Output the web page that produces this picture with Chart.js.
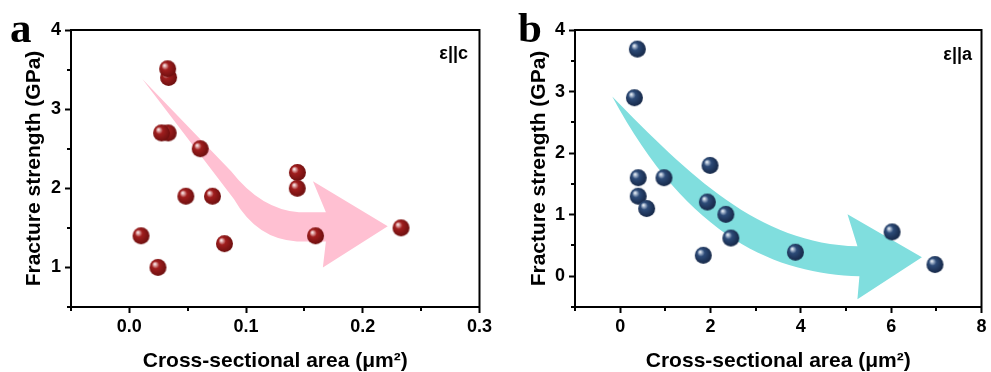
<!DOCTYPE html>
<html>
<head>
<meta charset="utf-8">
<script src="https://cdn.jsdelivr.net/npm/chart.js@4.4.0/dist/chart.umd.min.js"></script>
<style>
  html, body { margin: 0; padding: 0; background: #fff; }
  #wrap { position: relative; width: 991px; height: 372px; overflow: hidden; background: #fff; }
  canvas { position: absolute; top: 0; }
  .lab { position: absolute; font-family: 'Liberation Serif', 'Times New Roman', serif; font-weight: bold; font-size: 43px; line-height: 43px; color: #000; }
  .ann { position: absolute; font-family: 'Liberation Sans', Arial, sans-serif; font-weight: bold; font-size: 18px; line-height: 18px; color: #000; white-space: nowrap; }
</style>
</head>
<body>
<div id="wrap">
  <canvas id="ca" width="495" height="372" style="left:0px"></canvas>
  <canvas id="cb" width="496" height="372" style="left:495px"></canvas>
  <div class="lab" style="left:10px; top:6px;">a</div>
  <div class="lab" style="left:518px; top:6px;">b</div>
  <div class="ann" style="right:523px; top:44px;">ε||c</div>
  <div class="ann" style="right:19px; top:45px;">ε||a</div>
</div>
<script>
// ---- data (panel a: ε||c) ----
const xA = [0.0336, 0.0328, 0.0333, 0.0276, 0.0607, 0.0484, 0.0712, 0.0100, 0.0245, 0.0815, 0.1440, 0.1439, 0.1595, 0.2328];
const yA = [3.40, 3.51, 2.70, 2.70, 2.50, 1.90, 1.90, 1.40, 1.00, 1.30, 2.20, 2.00, 1.40, 1.50];
const xTicksA = [0.0, 0.1, 0.2, 0.3];
const xMinorA = [-0.05, 0.05, 0.15, 0.25];
const yTicksA = [1, 2, 3, 4];
const yMinorA = [0.5, 1.5, 2.5, 3.5];

// ---- data (panel b: ε||a) ----
const xB = [0.38, 0.315, 0.40, 0.97, 0.40, 0.586, 1.99, 1.93, 2.34, 2.45, 1.84, 3.88, 6.02, 6.97];
const yB = [3.69, 2.90, 1.60, 1.60, 1.30, 1.10, 1.80, 1.205, 1.005, 0.62, 0.34, 0.39, 0.72, 0.19];
const xTicksB = [0, 2, 4, 6, 8];
const xMinorB = [-1, 1, 3, 5, 7];
const yTicksB = [0, 1, 2, 3, 4];
const yMinorB = [-0.5, 0.5, 1.5, 2.5, 3.5];

const xTitle = 'Cross-sectional area (μm²)';
const yTitle = 'Fracture strength (GPa)';

// trend arrows, in data coordinates
const arrowA = [
  ['M', 0.0111, 3.380],
  ['L', 0.0872, 2.215],
  ['Q', 0.1128, 1.734, 0.1453, 1.696],
  ['L', 0.1684, 1.696],
  ['L', 0.1573, 2.089],
  ['L', 0.2214, 1.519],
  ['L', 0.1658, 1.000],
  ['L', 0.1684, 1.329],
  ['L', 0.1436, 1.329],
  ['Q', 0.1094, 1.354, 0.0897, 1.861],
  ['Z']
];
const arrowB = [
  ['M', -0.176, 2.919],
  ['C', 1.516, 1.654, 3.055, 0.519, 5.253, 0.486],
  ['L', 5.033, 1.005],
  ['L', 6.681, 0.308],
  ['L', 5.253, -0.373],
  ['L', 5.297, 0.0],
  ['C', 3.495, 0.032, 1.516, 0.600, -0.176, 2.919],
  ['Z']
];

function sphere(main, edge, light) {
  const r = 8.5, s = 19;
  const c = document.createElement('canvas');
  c.width = s; c.height = s;
  const g = c.getContext('2d');
  const cx = s / 2, cy = s / 2;
  const grad = g.createRadialGradient(cx - r * 0.4, cy - r * 0.42, 0, cx - r * 0.1, cy - r * 0.1, r * 1.1);
  grad.addColorStop(0, '#ffffff');
  grad.addColorStop(0.14, light);
  grad.addColorStop(0.4, main);
  grad.addColorStop(1, edge);
  g.fillStyle = grad;
  g.beginPath(); g.arc(cx, cy, r, 0, Math.PI * 2); g.fill();
  return c;
}
const redBall = sphere('rgb(160,30,30)', 'rgb(110,15,15)', 'rgb(230,180,180)');
const blueBall = sphere('rgb(45,75,120)', 'rgb(22,40,72)', 'rgb(180,195,215)');

const decor = {
  id: 'decor',
  beforeDatasetsDraw(chart, args, opts) {
    const ctx = chart.ctx, xs = chart.scales.x, ys = chart.scales.y;
    const X = v => xs.getPixelForValue(v), Y = v => ys.getPixelForValue(v);
    ctx.save();
    ctx.beginPath();
    for (const c of opts.arrow) {
      if (c[0] === 'M') ctx.moveTo(X(c[1]), Y(c[2]));
      else if (c[0] === 'L') ctx.lineTo(X(c[1]), Y(c[2]));
      else if (c[0] === 'Q') ctx.quadraticCurveTo(X(c[1]), Y(c[2]), X(c[3]), Y(c[4]));
      else if (c[0] === 'C') ctx.bezierCurveTo(X(c[1]), Y(c[2]), X(c[3]), Y(c[4]), X(c[5]), Y(c[6]));
      else ctx.closePath();
    }
    ctx.fillStyle = opts.color;
    ctx.fill();
    ctx.restore();
  },
  afterDraw(chart, args, opts) {
    const ctx = chart.ctx, a = chart.chartArea, xs = chart.scales.x, ys = chart.scales.y;
    ctx.save();
    ctx.strokeStyle = '#000';
    ctx.lineWidth = 2;
    ctx.strokeRect(a.left, a.top, a.right - a.left, a.bottom - a.top);
    ctx.beginPath();
    for (const v of opts.xMinor) {
      const p = Math.round(xs.getPixelForValue(v));
      ctx.moveTo(p, a.bottom); ctx.lineTo(p, a.bottom + 4);
    }
    for (const v of opts.yMinor) {
      const p = Math.round(ys.getPixelForValue(v));
      ctx.moveTo(a.left, p); ctx.lineTo(a.left - 4, p);
    }
    ctx.stroke();
    ctx.restore();
  }
};

function makeChart(id, xs, ys, ball, xr, yr, xT, yT, xFmt, yAxisW, yTitlePad, padRight, arrow, arrowColor, xMinor, yMinor) {
  const tickFont = { family: "'Liberation Sans', Arial, sans-serif", weight: 'bold', size: 18 };
  const titleFont = { family: "'Liberation Sans', Arial, sans-serif", weight: 'bold', size: 21, lineHeight: 1 };
  const axisCommon = {
    type: 'linear',
    border: { display: true, color: '#000', width: 2 },
    grid: { drawOnChartArea: false, drawTicks: true, tickLength: 6, tickWidth: 2, tickColor: '#000', color: '#000' }
  };
  return new Chart(document.getElementById(id), {
    type: 'scatter',
    data: {
      datasets: [{
        data: xs.map((x, i) => ({ x: x, y: ys[i] })),
        pointStyle: ball,
        pointRadius: 8.5,
        pointHoverRadius: 8.5
      }]
    },
    options: {
      responsive: false,
      devicePixelRatio: 1,
      animation: false,
      events: [],
      layout: { padding: { left: 0, top: 30, right: padRight, bottom: 0 } },
      plugins: {
        legend: { display: false },
        tooltip: { enabled: false },
        decor: { arrow: arrow, color: arrowColor, xMinor: xMinor, yMinor: yMinor }
      },
      scales: {
        x: Object.assign({}, axisCommon, {
          position: 'bottom',
          min: xr[0], max: xr[1],
          afterBuildTicks: s => { s.ticks = xT.map(v => ({ value: v })); },
          afterFit: s => { s.height = 65; },
          ticks: { color: '#000', font: tickFont, padding: 3, maxRotation: 0, autoSkip: false, callback: xFmt },
          title: { display: true, text: xTitle, color: '#000', font: titleFont, padding: { top: 0, bottom: 0 } }
        }),
        y: Object.assign({}, axisCommon, {
          position: 'left',
          min: yr[0], max: yr[1],
          afterBuildTicks: s => { s.ticks = yT.map(v => ({ value: v })); },
          afterFit: s => { s.width = yAxisW; },
          ticks: { color: '#000', font: tickFont, padding: 4, autoSkip: false, callback: v => String(v) },
          title: { display: true, text: yTitle, color: '#000', font: titleFont, padding: { top: yTitlePad, bottom: 0 } }
        })
      }
    },
    plugins: [decor]
  });
}

makeChart('ca', xA, yA, redBall, [-0.05, 0.3], [0.5, 4], xTicksA, yTicksA, v => Number(v).toFixed(1),
  71, 24, 14, arrowA, 'rgb(255,192,210)', xMinorA, yMinorA);
makeChart('cb', xB, yB, blueBall, [-1, 8], [-0.5, 4], xTicksB, yTicksB, v => String(v),
  80, 34, 5, arrowB, 'rgb(128,222,222)', xMinorB, yMinorB);
</script>
</body>
</html>
